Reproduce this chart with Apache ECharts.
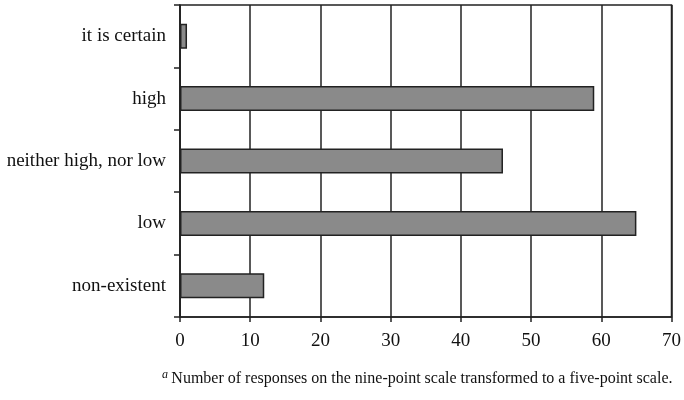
<!DOCTYPE html>
<html>
<head>
<meta charset="utf-8">
<script src="https://cdn.jsdelivr.net/npm/echarts@6/dist/echarts.min.js"></script>
<style>
  html, body { margin: 0; padding: 0; background: #fff; }
  #main { width: 684px; height: 400px; }
</style>
</head>
<body>
<div id="main"></div>
<script>
// categories bottom to top (category axis starts at the bottom)
const categories = ['non-existent', 'low', 'neither high, nor low', 'high', 'it is certain'];
const responses = [12, 65, 46, 59, 1];
const xTicks = [0, 70, 10]; // min, max, interval

const chart = echarts.init(document.getElementById('main'));

const option = {
  backgroundColor: '#fff',
  animation: false,
  grid: { left: 180, right: 12, top: 5, bottom: 83, show: true, borderColor: '#222', borderWidth: 1.5 },
  xAxis: {
    type: 'value',
    min: xTicks[0],
    max: xTicks[1],
    interval: xTicks[2],
    axisLine: { show: true, lineStyle: { color: '#222', width: 1.5 } },
    axisTick: { show: true, length: 5, lineStyle: { color: '#222', width: 1.5 } },
    axisLabel: { color: '#111', fontFamily: 'Liberation Serif', fontSize: 19, margin: 15 },
    splitLine: { show: true, lineStyle: { color: '#222', width: 1.5 } }
  },
  yAxis: {
    type: 'category',
    data: categories,
    axisLine: { show: true, lineStyle: { color: '#222', width: 1.5 } },
    axisTick: { show: true, length: 6, lineStyle: { color: '#222', width: 1.5 } },
    axisLabel: { color: '#111', fontFamily: 'Liberation Serif', fontSize: 19, margin: 14 }
  },
  series: [{
    type: 'bar',
    data: responses,
    barWidth: 25,
    itemStyle: { color: '#8a8a8a', borderColor: '#222', borderWidth: 1.5 }
  }],
  graphic: [{
    type: 'text',
    left: 162,
    top: 369,
    style: {
      rich: {
        sup: { fontFamily: 'Liberation Serif', fontStyle: 'italic', fontSize: 12, verticalAlign: 'top', padding: [0, 0, 8, 0] },
        main: { fontFamily: 'Liberation Serif', fontSize: 16 }
      },
      text: '{sup|a} {main|Number of responses on the nine-point scale transformed to a five-point scale.}',
      fill: '#111'
    }
  }]
};

chart.setOption(option);
</script>
</body>
</html>
